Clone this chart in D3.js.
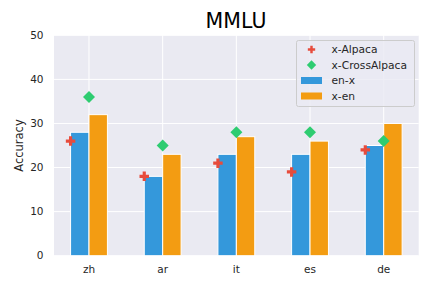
<!DOCTYPE html>
<html>
<head>
    <meta charset="UTF-8">
    <title>MMLU</title>
    <style>
        body { margin: 0; background: #fff; }
        text { font-family: "DejaVu Sans", sans-serif; }
    </style>
</head>
<body>
    <svg id="chart"></svg>
    <script src="https://cdn.jsdelivr.net/npm/d3@7"></script>
    <script>
        const width = 432;
        const height = 288;

        const langs = ['zh', 'ar', 'it', 'es', 'de'];
        const enX = [28, 18, 23, 23, 25];
        const xEn = [32, 23, 27, 26, 30];
        const xAlpaca = [26, 18, 21, 19, 24];
        const xCrossAlpaca = [36, 25, 28, 28, 26];
        const yTicks = [0, 10, 20, 30, 40, 50];

        const margin = { left: 54, right: 13.3, top: 35.3, bottom: 32.3 };

        const svg = d3.select('#chart')
            .attr('width', width)
            .attr('height', height);

        const x = d3.scaleLinear()
            .domain([-0.475, 4.475])
            .range([margin.left, width - margin.right]);
        const y = d3.scaleLinear()
            .domain([0, 50])
            .range([height - margin.bottom, margin.top]);

        // background
        svg.append('rect')
            .attr('x', margin.left)
            .attr('y', margin.top)
            .attr('width', width - margin.left - margin.right)
            .attr('height', height - margin.top - margin.bottom)
            .style('fill', '#eaeaf2');

        // grid
        svg.append('g').selectAll('line')
            .data(yTicks)
            .enter().append('line')
            .attr('x1', margin.left).attr('x2', width - margin.right)
            .attr('y1', d => y(d)).attr('y2', d => y(d))
            .style('stroke', '#fff').style('stroke-width', 1);
        svg.append('g').selectAll('line')
            .data(langs)
            .enter().append('line')
            .attr('x1', (d, i) => x(i)).attr('x2', (d, i) => x(i))
            .attr('y1', margin.top).attr('y2', height - margin.bottom)
            .style('stroke', '#fff').style('stroke-width', 1);

        // ticks
        svg.append('g').selectAll('text')
            .data(yTicks)
            .enter().append('text')
            .attr('x', margin.left - 10.5)
            .attr('y', d => y(d))
            .attr('dy', '0.35em')
            .attr('text-anchor', 'end')
            .style('font-size', '10.5px')
            .style('fill', '#262626')
            .text(d => d);
        svg.append('g').selectAll('text')
            .data(langs)
            .enter().append('text')
            .attr('x', (d, i) => x(i))
            .attr('y', y(0) + 17)
            .attr('text-anchor', 'middle')
            .style('font-size', '10.5px')
            .style('fill', '#262626')
            .text(d => d);

        // bars
        const bw = 0.25;
        svg.append('g').selectAll('rect')
            .data(enX)
            .enter().append('rect')
            .attr('x', (d, i) => x(i - bw))
            .attr('y', d => y(d))
            .attr('width', x(bw) - x(0))
            .attr('height', d => y(0) - y(d))
            .style('fill', '#3498db')
            .style('stroke', '#fff')
            .style('stroke-width', 1);
        svg.append('g').selectAll('rect')
            .data(xEn)
            .enter().append('rect')
            .attr('x', (d, i) => x(i))
            .attr('y', d => y(d))
            .attr('width', x(bw) - x(0))
            .attr('height', d => y(0) - y(d))
            .style('fill', '#f39c12')
            .style('stroke', '#fff')
            .style('stroke-width', 1);

        const plus = d3.symbol().type(d3.symbolCross).size(50);
        const diamond = 'M0,-6L6,0L0,6L-6,0Z';

        svg.append('g').selectAll('path')
            .data(xAlpaca)
            .enter().append('path')
            .attr('transform', (d, i) => `translate(${x(i - bw)},${y(d)})`)
            .attr('d', plus)
            .style('fill', '#e74c3c');
        svg.append('g').selectAll('path')
            .data(xCrossAlpaca)
            .enter().append('path')
            .attr('transform', (d, i) => `translate(${x(i)},${y(d)})`)
            .attr('d', diamond)
            .style('fill', '#2ecc71');

        // title & label
        svg.append('text')
            .attr('x', 236)
            .attr('y', 28)
            .attr('text-anchor', 'middle')
            .style('font-size', '20.5px')
            .style('fill', '#000')
            .text('MMLU');
        svg.append('text')
            .attr('transform', `translate(23,${(margin.top + height - margin.bottom) / 2}) rotate(-90)`)
            .attr('text-anchor', 'middle')
            .style('font-size', '11.5px')
            .style('fill', '#262626')
            .text('Accuracy');

        // legend
        const lg = svg.append('g').attr('transform', 'translate(296.5,40.5)');
        lg.append('rect')
            .attr('width', 118).attr('height', 66).attr('rx', 2)
            .style('fill', '#eaeaf2').style('fill-opacity', 0.8)
            .style('stroke', '#cccccc').style('stroke-width', 1);
        const items = [
            { name: 'x-Alpaca', kind: 'plus', color: '#e74c3c' },
            { name: 'x-CrossAlpaca', kind: 'diamond', color: '#2ecc71' },
            { name: 'en-x', kind: 'bar', color: '#3498db' },
            { name: 'x-en', kind: 'bar', color: '#f39c12' }
        ];
        items.forEach((d, i) => {
            const cy = 9 + i * 15.5;
            if (d.kind === 'bar') {
                lg.append('rect')
                    .attr('x', 4.5).attr('y', cy - 3.5)
                    .attr('width', 21).attr('height', 7)
                    .style('fill', d.color);
            } else if (d.kind === 'plus') {
                lg.append('path')
                    .attr('transform', `translate(15,${cy})`)
                    .attr('d', d3.symbol().type(d3.symbolCross).size(30))
                    .style('fill', d.color);
            } else {
                lg.append('path')
                    .attr('transform', `translate(15,${cy}) scale(0.78)`)
                    .attr('d', diamond)
                    .style('fill', d.color);
            }
            lg.append('text')
                .attr('x', 35).attr('y', cy)
                .attr('dy', '0.35em')
                .style('font-size', '10.7px')
                .style('fill', '#262626')
                .text(d.name);
        });
    </script>
</body>
</html>
